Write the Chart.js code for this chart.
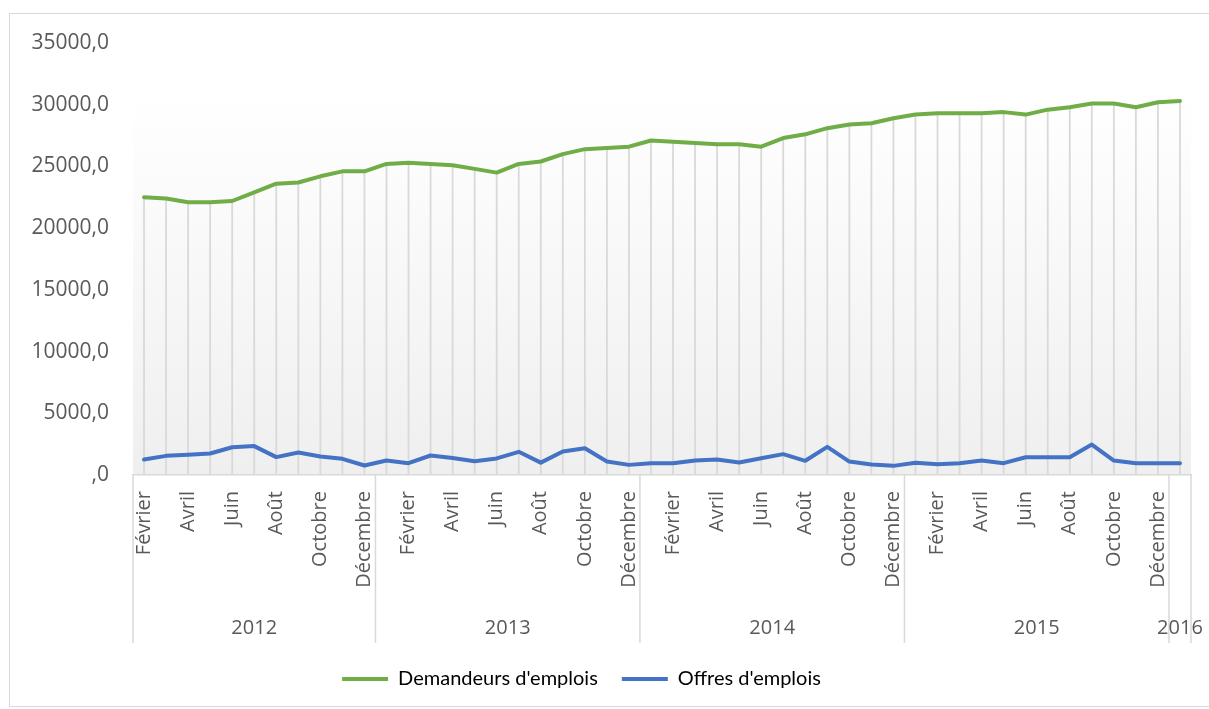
<!DOCTYPE html>
<html lang="fr">
<head>
<meta charset="utf-8">
<title>Demandeurs et offres d'emplois</title>
<script src="https://cdn.jsdelivr.net/npm/chart.js@4/dist/chart.umd.min.js"></script>
<style>
  html, body { margin: 0; padding: 0; background: #fff; overflow: hidden; }
  #frame { position: absolute; left: 9px; top: 13px; width: 1220px; height: 692px; border: 1px solid #d9d9d9; }
  #chart { position: absolute; left: 0; top: 0; }
</style>
</head>
<body>
<div id="frame"></div>
<canvas id="chart" width="1209" height="709"></canvas>
<script>
/* ── Data ────────────────────────────────────────────────────── */
const months = [
  "Février", "Mars", "Avril", "Mai", "Juin", "Juillet", "Août", "Septembre", "Octobre", "Novembre", "Décembre",
  "Janvier", "Février", "Mars", "Avril", "Mai", "Juin", "Juillet", "Août", "Septembre", "Octobre", "Novembre", "Décembre",
  "Janvier", "Février", "Mars", "Avril", "Mai", "Juin", "Juillet", "Août", "Septembre", "Octobre", "Novembre", "Décembre",
  "Janvier", "Février", "Mars", "Avril", "Mai", "Juin", "Juillet", "Août", "Septembre", "Octobre", "Novembre", "Décembre",
  "Janvier"
];
const years         = ["2012", "2013", "2014", "2015", "2016"];
const monthsPerYear = [11, 12, 12, 12, 1];

const demandeurs = [
  22500, 22400, 22100, 22100, 22200, 22900, 23600, 23700, 24200, 24600, 24600,
  25200, 25300, 25200, 25100, 24800, 24500, 25200, 25400, 26000, 26400, 26500, 26600,
  27100, 27000, 26900, 26800, 26800, 26600, 27300, 27600, 28100, 28400, 28500, 28900,
  29200, 29300, 29300, 29300, 29400, 29200, 29600, 29800, 30100, 30100, 29800, 30200,
  30300
];
const offres = [
  1250, 1550, 1650, 1740, 2250, 2340, 1450, 1820, 1500, 1310, 770,
  1180, 960, 1580, 1370, 1120, 1340, 1880, 1000, 1900, 2170, 1100, 820,
  950, 950, 1170, 1250, 1010, 1360, 1690, 1150, 2280, 1090, 850, 740,
  990, 870, 960, 1170, 960, 1440, 1440, 1440, 2470, 1170, 960, 960,
  960
];

const yTicksMax  = 35000;
const yTicksStep = 5000;

/* ── Plugins ─────────────────────────────────────────────────── */
// Plot area: soft white-to-grey gradient
const plotBackground = {
  id: "plotBackground",
  beforeDraw(chart) {
    const { ctx, chartArea: a } = chart;
    const g = ctx.createLinearGradient(0, a.top, 0, a.bottom);
    g.addColorStop(0, "#ffffff");
    g.addColorStop(0.12, "#ffffff");
    g.addColorStop(1, "#efefef");
    ctx.save();
    ctx.fillStyle = g;
    ctx.fillRect(a.left, a.top, a.right - a.left, a.bottom - a.top);
    ctx.restore();
  }
};

// Vertical drop lines from the first series down to the axis
const dropLines = {
  id: "dropLines",
  beforeDatasetsDraw(chart) {
    const { ctx, chartArea: a } = chart;
    const pts = chart.getDatasetMeta(0).data;
    ctx.save();
    ctx.strokeStyle = "#d9d9d9";
    ctx.lineWidth = 1.8;
    ctx.beginPath();
    pts.forEach(p => { ctx.moveTo(p.x, p.y); ctx.lineTo(p.x, a.bottom); });
    ctx.stroke();
    ctx.restore();
  }
};

// Second category level: years with separators
const yearAxis = {
  id: "yearAxis",
  afterDraw(chart) {
    const { ctx } = chart;
    const x = chart.scales.x;
    const edge = i => i <= 0 ? x.left
      : i >= months.length ? x.right
      : (x.getPixelForValue(i - 1) + x.getPixelForValue(i)) / 2;

    ctx.save();
    ctx.strokeStyle = "#d9d9d9";
    ctx.lineWidth = 1.5;
    ctx.beginPath();
    let start = 0;
    ctx.moveTo(edge(0), x.top); ctx.lineTo(edge(0), x.bottom - 2);
    const spans = years.map((yr, k) => {
      const end = start + monthsPerYear[k];
      const span = { yr, x0: edge(start), x1: edge(end) };
      ctx.moveTo(span.x1, x.top); ctx.lineTo(span.x1, x.bottom - 2);
      start = end;
      return span;
    });
    ctx.stroke();

    ctx.font = "20px 'Open Sans'";
    ctx.fillStyle = "#595959";
    ctx.textAlign = "center";
    ctx.textBaseline = "middle";
    spans.forEach(s => ctx.fillText(s.yr, (s.x0 + s.x1) / 2, x.bottom - 17));
    ctx.restore();
  }
};

// Excel centres the legend a bit left of the page middle
const legendShift = {
  id: "legendShift",
  afterLayout(chart) {
    chart.legend.left  -= 14;
    chart.legend.right -= 14;
  }
};

/* ── Chart ───────────────────────────────────────────────────── */
new Chart(document.getElementById("chart"), {
  type: "line",
  data: {
    labels: months,
    datasets: [
      {
        label: "Demandeurs d'emplois",
        data: demandeurs,
        borderColor: "#70ad47",
        backgroundColor: "#70ad47",
        borderWidth: 4,
        pointRadius: 0,
        borderJoinStyle: "round",
        borderCapStyle: "round",
        tension: 0,
      },
      {
        label: "Offres d'emplois",
        data: offres,
        borderColor: "#4472c4",
        backgroundColor: "#4472c4",
        borderWidth: 4,
        pointRadius: 0,
        borderJoinStyle: "round",
        borderCapStyle: "round",
        tension: 0,
      },
    ],
  },
  options: {
    responsive: false,
    animation: false,
    layout: { padding: { top: 43, right: 18, bottom: 10, left: 0 } },
    plugins: {
      tooltip: { enabled: false },
      legend: {
        position: "bottom",
        labels: {
          boxWidth: 46,
          boxHeight: 4,
          padding: 24,
          color: "#000000",
          font: { family: "Lato", size: 20 },
          generateLabels: chart =>
            Chart.defaults.plugins.legend.labels.generateLabels(chart)
              .map(l => ({ ...l, fillStyle: l.strokeStyle, lineWidth: 0 })),
        },
      },
    },
    scales: {
      x: {
        offset: true,
        // ticks hidden, but their length keeps the month labels clear of the axis
        grid: { display: false, drawTicks: true, tickLength: 13 },
        border: { color: "#d9d9d9", width: 1.5 },
        ticks: {
          autoSkip: false,
          minRotation: 90,
          maxRotation: 90,
          padding: 3,
          color: "#595959",
          font: { family: "'Open Sans'", size: 20 },
          callback: (v, i) => i % 2 === 0 ? months[i] : "",
        },
        afterFit: s => { s.height = 170; },
      },
      y: {
        min: 0,
        max: yTicksMax,
        grid: { display: false, drawTicks: false },
        border: { display: false },
        ticks: {
          stepSize: yTicksStep,
          padding: 24,
          color: "#595959",
          font: { family: "'Open Sans'", size: 21 },
          callback: v => v === 0 ? ",0" : v + ",0",
        },
        afterFit: s => { s.width = 133; },
      },
    },
  },
  plugins: [plotBackground, dropLines, yearAxis, legendShift],
});
</script>
</body>
</html>
